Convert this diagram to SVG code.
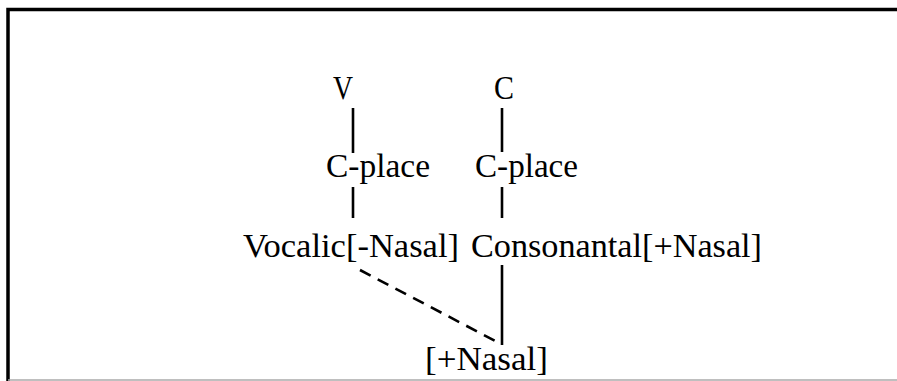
<svg xmlns="http://www.w3.org/2000/svg" width="897" height="381" viewBox="0 0 897 381">
<style>
text{font-family:"Liberation Serif","Times New Roman",serif;font-size:33px;fill:#000}
.c{stroke:#000;stroke-width:2.6;fill:none}
.d{stroke-dasharray:12 8}
</style>
<rect width="897" height="381" fill="#fff"/>
<g id="frame">
<path d="M8 381V9.5H897" stroke="#000" stroke-width="3.5" fill="none"/>
<path d="M8 380H897" stroke="#aaa" stroke-width="1.5"/>
</g>
<g id="connectors">
<line class="c" x1="353" y1="108" x2="353" y2="153"/>
<line class="c" x1="502" y1="108" x2="502" y2="152"/>
<line class="c" x1="353" y1="187" x2="353" y2="218"/>
<line class="c" x1="502" y1="187" x2="502" y2="218"/>
<line class="c" x1="502" y1="265" x2="502" y2="345"/>
<line class="c d" x1="360" y1="270" x2="501" y2="344"/>
</g>
<g id="V"><text x="333" y="99" textLength="20" lengthAdjust="spacingAndGlyphs">V</text></g>
<g id="C"><text x="494" y="99" textLength="20" lengthAdjust="spacingAndGlyphs">C</text></g>
<g id="cplace1"><text x="326" y="177" textLength="104" lengthAdjust="spacingAndGlyphs">C-place</text></g>
<g id="cplace2"><text x="475" y="177" textLength="103" lengthAdjust="spacingAndGlyphs">C-place</text></g>
<g id="vocalic"><text x="243" y="257" textLength="216" lengthAdjust="spacingAndGlyphs">Vocalic[-Nasal]</text></g>
<g id="consonantal"><text x="471" y="257" textLength="291" lengthAdjust="spacingAndGlyphs">Consonantal[+Nasal]</text></g>
<g id="nasal"><text x="425" y="370" textLength="123" lengthAdjust="spacingAndGlyphs">[+Nasal]</text></g>
</svg>
